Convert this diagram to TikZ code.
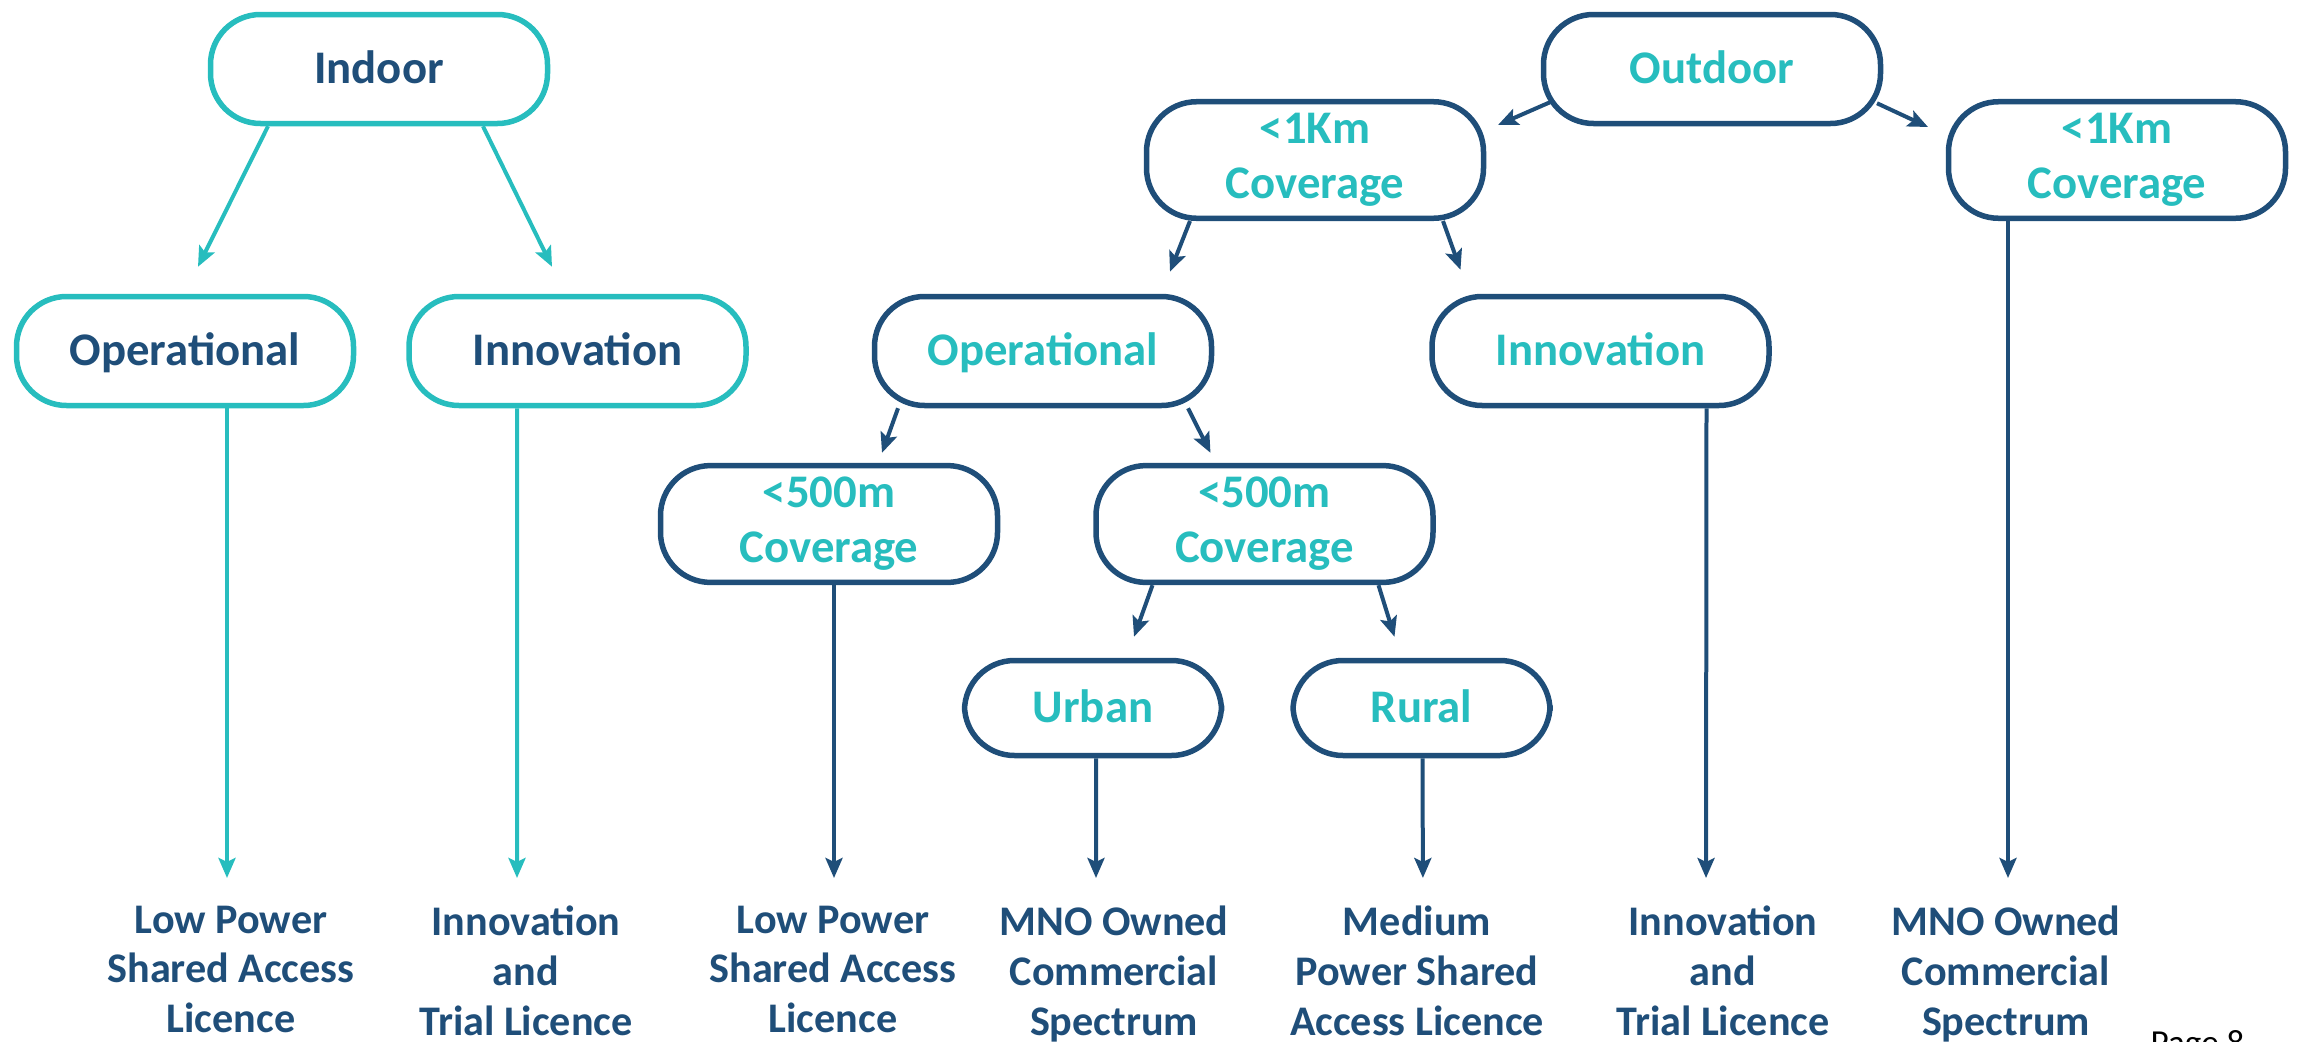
\documentclass[tikz,border=0pt]{standalone}
\usepackage{fontspec}
\setmainfont{Carlito}
\usetikzlibrary{arrows.meta,positioning}

\definecolor{boxteal}{HTML}{27BDBE}
\definecolor{boxnavy}{HTML}{1F4E79}

\tikzset{
  pill/.style={rounded corners=0.5cm, minimum width=3.37cm, minimum height=1.09cm,
    line width=0.055cm, fill=white, align=center,
    font=\fontsize{13.3}{15.6}\selectfont\bfseries},
  oneline/.style={text height=1.08em, text depth=0.25em},
  tealbox/.style={pill, draw=boxteal, text=boxnavy},
  navybox/.style={pill, draw=boxnavy, text=boxteal},
  smallbox/.style={navybox, oneline, minimum width=2.57cm, minimum height=0.95cm},
  lbl/.style={anchor=north, inner sep=0pt, align=center, text=boxnavy,
    font=\fontsize{12}{14.2}\selectfont\bfseries},
  tealarrow/.style={draw=boxteal, line width=0.04cm,
    -{Stealth[length=0.2cm,width=0.17cm,inset=0.04cm]}},
  navyarrow/.style={tealarrow, draw=boxnavy}
}

\begin{document}
\begin{tikzpicture}

\useasboundingbox (0,0) rectangle (23,-10.42);
\clip (0,0) rectangle (23,-10.42);

% indoor side
\node[tealbox,oneline] (indoor) at (3.79,-0.69) {Indoor};

\node[tealbox,oneline] (indopr) at (1.85,-3.51) {Operational};

\node[tealbox,oneline,right=0.5cm of indopr] (indinn) {Innovation};

% outdoor side
\node[navybox,oneline] (outdoor) at (17.12,-0.69) {Outdoor};

\node[navybox] (kml) at (13.15,-1.60) {<1Km\\Coverage};

\node[navybox] (kmr) at (21.17,-1.60) {<1Km\\Coverage};

\node[navybox,oneline] (outopr) at (10.43,-3.51) {Operational};

\node[navybox,oneline,right=2.15cm of outopr] (outinn) {Innovation};

\node[navybox] (cov5l) at (8.29,-5.24) {<500m\\Coverage};

\node[navybox,right=0.93cm of cov5l] (cov5r) {<500m\\Coverage};

\node[smallbox] (urban) at (10.93,-7.08) {Urban};

\node[smallbox,right=0.66cm of urban] (rural) {Rural};

% licences
\node[lbl] (lab1) at (2.31,-9.05) {Low Power\\Shared Access\\Licence};
\node[lbl] (lab2) at (5.26,-9.05) {Innovation\\and\\Trial Licence};
\node[lbl] (lab3) at (8.33,-9.05) {Low Power\\Shared Access\\Licence};
\node[lbl] (lab4) at (11.14,-9.05) {MNO Owned\\Commercial\\Spectrum};
\node[lbl] (lab5) at (14.17,-9.05) {Medium\\Power Shared\\Access Licence};
\node[lbl] (lab6) at (17.23,-9.05) {Innovation\\and\\Trial Licence};
\node[lbl] (lab7) at (20.06,-9.05) {MNO Owned\\Commercial\\Spectrum};

\node[anchor=north west,inner sep=0pt,font=\fontsize{10}{12}\selectfont] (page) at (21.50,-10.30) {Page 8};

% Indoor to its children
\draw[tealarrow] ([xshift=-1.11cm]indoor.south) -- ([shift={(0.13cm,0.27cm)}]indopr.north);
\draw[tealarrow] ([xshift=1.04cm]indoor.south) -- ([shift={(-0.255cm,0.27cm)}]indinn.north);

% Outdoor to the two ranges
\draw[navyarrow] ([shift={(-1.62cm,0.24cm)}]outdoor.south) -- ([shift={(1.83cm,-0.26cm)}]kml.north);
\draw[navyarrow] ([shift={(1.65cm,0.23cm)}]outdoor.south) -- ([shift={(-1.89cm,-0.28cm)}]kmr.north);

% <1Km to its children
\draw[navyarrow] ([xshift=-1.25cm]kml.south) -- ([shift={(1.27cm,0.22cm)}]outopr.north);
\draw[navyarrow] ([xshift=1.28cm]kml.south) -- ([shift={(-1.40cm,0.24cm)}]outinn.north);

% Operational to <500m
\draw[navyarrow] ([xshift=-1.45cm]outopr.south) -- ([shift={(0.53cm,0.10cm)}]cov5l.north);
\draw[navyarrow] ([xshift=1.45cm]outopr.south) -- ([shift={(-0.54cm,0.10cm)}]cov5r.north);

% <500m to Urban and Rural
\draw[navyarrow] ([xshift=-1.12cm]cov5r.south) -- ([shift={(0.41cm,0.21cm)}]urban.north);
\draw[navyarrow] ([xshift=1.14cm]cov5r.south) -- ([shift={(-0.27cm,0.21cm)}]rural.north);

% down to the licences
\draw[tealarrow,shorten >=0.27cm] ([xshift=0.42cm]indopr.south) -- ([xshift=-0.04cm]lab1.north);
\draw[tealarrow,shorten >=0.27cm] ([xshift=-0.605cm]indinn.south) -- ([xshift=-0.09cm]lab2.north);
\draw[navyarrow,shorten >=0.27cm] ([xshift=0.05cm]cov5l.south) -- ([xshift=0.01cm]lab3.north);
\draw[navyarrow,shorten >=0.27cm] ([xshift=0.03cm]urban.south) -- ([xshift=-0.18cm]lab4.north);
\draw[navyarrow,shorten >=0.27cm] ([xshift=0.01cm]rural.south) -- ([xshift=0.06cm]lab5.north);
\draw[navyarrow,shorten >=0.27cm] ([xshift=1.06cm]outinn.south) -- ([xshift=-0.17cm]lab6.north);
\draw[navyarrow,shorten >=0.27cm] ([xshift=-1.09cm]kmr.south) -- ([xshift=0.02cm]lab7.north);

\end{tikzpicture}
\end{document}
